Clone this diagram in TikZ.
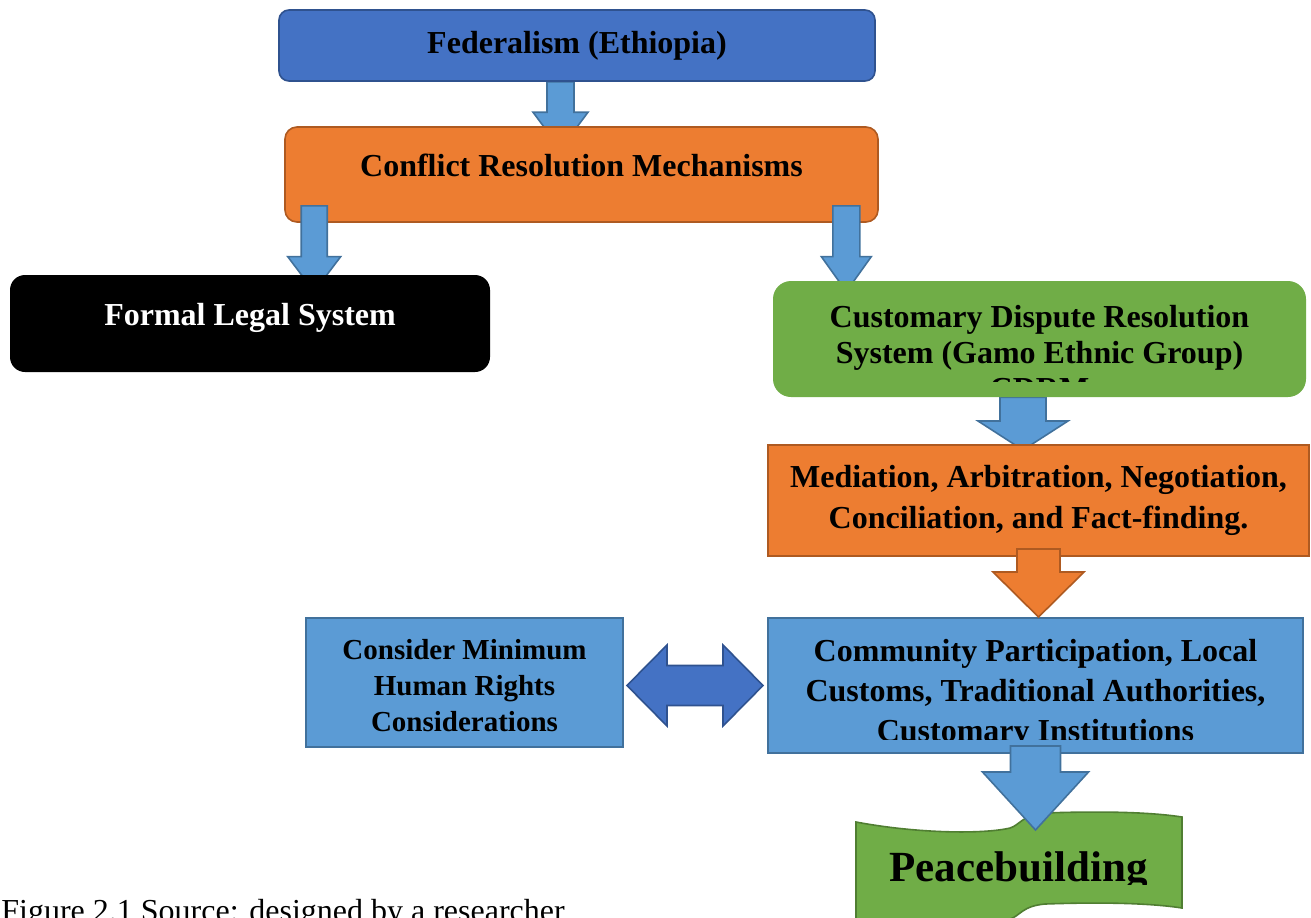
\documentclass[tikz,border=0pt]{standalone}
\usepackage{fontspec}
\setmainfont{Liberation Serif}
\usepackage{xcolor}
\usepackage{tikz}
\usetikzlibrary{positioning, calc}
\definecolor{fedblue}{HTML}{4472C4}
\definecolor{fedline}{HTML}{2F528F}
\definecolor{boxblue}{HTML}{5B9BD5}
\definecolor{blueline}{HTML}{41719C}
\definecolor{boxorange}{HTML}{ED7D31}
\definecolor{orangeline}{HTML}{AE5A21}
\definecolor{boxgreen}{HTML}{70AD47}
\definecolor{greenline}{HTML}{507E32}
\pgfdeclarelayer{back}
\pgfdeclarelayer{front}
\pgfsetlayers{back,main,front}
% block arrow downwards: style, from, to, shaft half width, head half width, head length (px)
\newcommand{\DownArr}[6]{%
	\draw[#1] let \p1=(#2), \p2=(#3) in
		(\x1-#4*0.5pt,\y1) -- (\x1+#4*0.5pt,\y1) -- (\x1+#4*0.5pt,\y2+#6*0.5pt)
		-- (\x1+#5*0.5pt,\y2+#6*0.5pt) -- (\x1,\y2) -- (\x1-#5*0.5pt,\y2+#6*0.5pt)
		-- (\x1-#4*0.5pt,\y2+#6*0.5pt) -- cycle;}
% block arrow both ways: style, left tip, right tip, shaft half width, head half width, head length (px)
\newcommand{\LRArr}[6]{%
	\draw[#1] let \p1=(#2), \p2=(#3) in
		(\x1,\y1) -- (\x1+#6*0.5pt,\y1+#5*0.5pt) -- (\x1+#6*0.5pt,\y1+#4*0.5pt)
		-- (\x2-#6*0.5pt,\y1+#4*0.5pt) -- (\x2-#6*0.5pt,\y1+#5*0.5pt) -- (\x2,\y1)
		-- (\x2-#6*0.5pt,\y1-#5*0.5pt) -- (\x2-#6*0.5pt,\y1-#4*0.5pt)
		-- (\x1+#6*0.5pt,\y1-#4*0.5pt) -- (\x1+#6*0.5pt,\y1-#5*0.5pt) -- cycle;}
\begin{document}
\begin{tikzpicture}[x=0.5pt,y=-0.5pt,
	txt/.style={align=center,inner sep=0pt,font=\fontsize{16}{20}\selectfont\bfseries},
	fedbox/.style={draw=fedline,fill=fedblue,line width=0.8pt,rounded corners=5pt,inner sep=0pt},
	crmbox/.style={draw=orangeline,fill=boxorange,line width=0.8pt,rounded corners=6pt,inner sep=0pt},
	blackbox/.style={fill=black,rounded corners=7.5pt,inner sep=0pt},
	greenbox/.style={fill=boxgreen,rounded corners=9pt,inner sep=0pt},
	orangebox/.style={draw=orangeline,fill=boxorange,line width=1pt,inner sep=0pt},
	bluebox/.style={draw=blueline,fill=boxblue,line width=1pt,inner sep=0pt},
	bluearr/.style={draw=blueline,fill=boxblue,line width=0.8pt},
	orangearr/.style={draw=orangeline,fill=boxorange,line width=0.8pt},
	darkarr/.style={draw=fedline,fill=fedblue,line width=0.8pt}]
	\useasboundingbox (0,0) rectangle (1311,917);
	% boxes
	\node[fedbox,txt,minimum width=298pt,minimum height=35.5pt] (fed) at (577,45.5) {Federalism (Ethiopia)};
	\node[crmbox,minimum width=296.5pt,minimum height=47.5pt] (crm) at (581.5,174.5) {};
	\node[txt] (crm-t) at ($(crm)+(0,-9.5)$) {Conflict Resolution Mechanisms};
	\begin{pgfonlayer}{front}
		\node[blackbox,minimum width=240pt,minimum height=48.5pt] (formal) at (250,323.5) {};
		\node[txt,text=white] (formal-t) at ($(formal)+(0,-5.5)$) {Formal Legal System};
		\node[greenbox,minimum width=266.5pt,minimum height=58pt] (green) at (1039.5,339) {};
		\begin{scope}
			\clip (773,281) rectangle (1306,381);
			\node[txt,font=\fontsize{16}{18}\selectfont\bfseries] (green-t) at ($(green)+(0,14)$) {Customary Dispute Resolution\\System (Gamo Ethnic Group)\\CDRM};
		\end{scope}
	\end{pgfonlayer}
	\node[orangebox,minimum width=270.5pt,minimum height=55.5pt] (med) at (1038.5,500.5) {};
	\node[txt,font=\fontsize{16}{20.5}\selectfont\bfseries] (med-t) at (med) {Mediation, Arbitration, Negotiation,\\Conciliation, and Fact-finding.};
	\node[bluebox,minimum width=267.5pt,minimum height=67.5pt] (comm) at (1035.5,685.5) {};
	\begin{scope}
		\clip (768,618) rectangle (1303,739);
		\node[txt] (comm-t) at ($(comm)+(0,8.5)$) {Community Participation, Local\\Customs, Traditional Authorities,\\Customary Institutions};
	\end{scope}
	\node[bluebox,minimum width=158.5pt,minimum height=64.5pt] (hr) at (464.5,682.5) {};
	\node[txt,font=\fontsize{14.5}{18}\selectfont\bfseries] (hr-t) at ($(hr)+(0,3)$) {Consider Minimum\\Human Rights\\Considerations};
	% wave
	\draw[draw=greenline,fill=boxgreen,line width=0.8pt] (856,822) .. controls (920,834) and (985,834) .. (1010,828)
		.. controls (1020,825) and (1022,815) .. (1045,813) .. controls (1100,811) and (1150,812) .. (1182,817)
		-- (1182,908) .. controls (1150,903) and (1100,902) .. (1045,904)
		.. controls (1022,906) and (1020,916) .. (1010,919) .. controls (985,925) and (920,927) .. (856,920) -- cycle;
	\begin{scope}
		\clip (850,800) rectangle (1190,884);
		\node[txt,font=\fontsize{21.5}{26}\selectfont\bfseries] (peace) at (1018.5,871) {Peacebuilding};
	\end{scope}
	\node[anchor=base west,inner sep=0pt,font=\fontsize{16}{19}\selectfont] (cap) at (1,921) {Figure 2.1 Source: designed by a researcher};
	% arrows
	\begin{pgfonlayer}{back}
		\DownArr{bluearr}{$(fed.south)+(-16.5,0)$}{$(crm.north)+(0,23)$}{13.5}{27.5}{37}
		\DownArr{bluearr}{$(green.south)+(-16.5,0)$}{$(med.north)+(0,6)$}{23}{45}{29}
	\end{pgfonlayer}
	\DownArr{bluearr}{$(crm.south west)+(30,-17)$}{$(formal.north)+(0,17)$}{13}{26.5}{35}
	\DownArr{bluearr}{$(crm.south east)+(-32.5,-17)$}{$(green.north)+(0,11)$}{13.5}{25}{35}
	\DownArr{orangearr}{$(med.south)+(0,-8)$}{comm.north}{21.5}{45.5}{45}
	\DownArr{bluearr}{$(comm.south)+(0,-8)$}{$(peace)+(0,-41)$}{25}{53}{58}
	\LRArr{darkarr}{$(hr.east)+(3,3)$}{$(comm.west)+(-4,0)$}{20}{40.5}{40}
\end{tikzpicture}
\end{document}
